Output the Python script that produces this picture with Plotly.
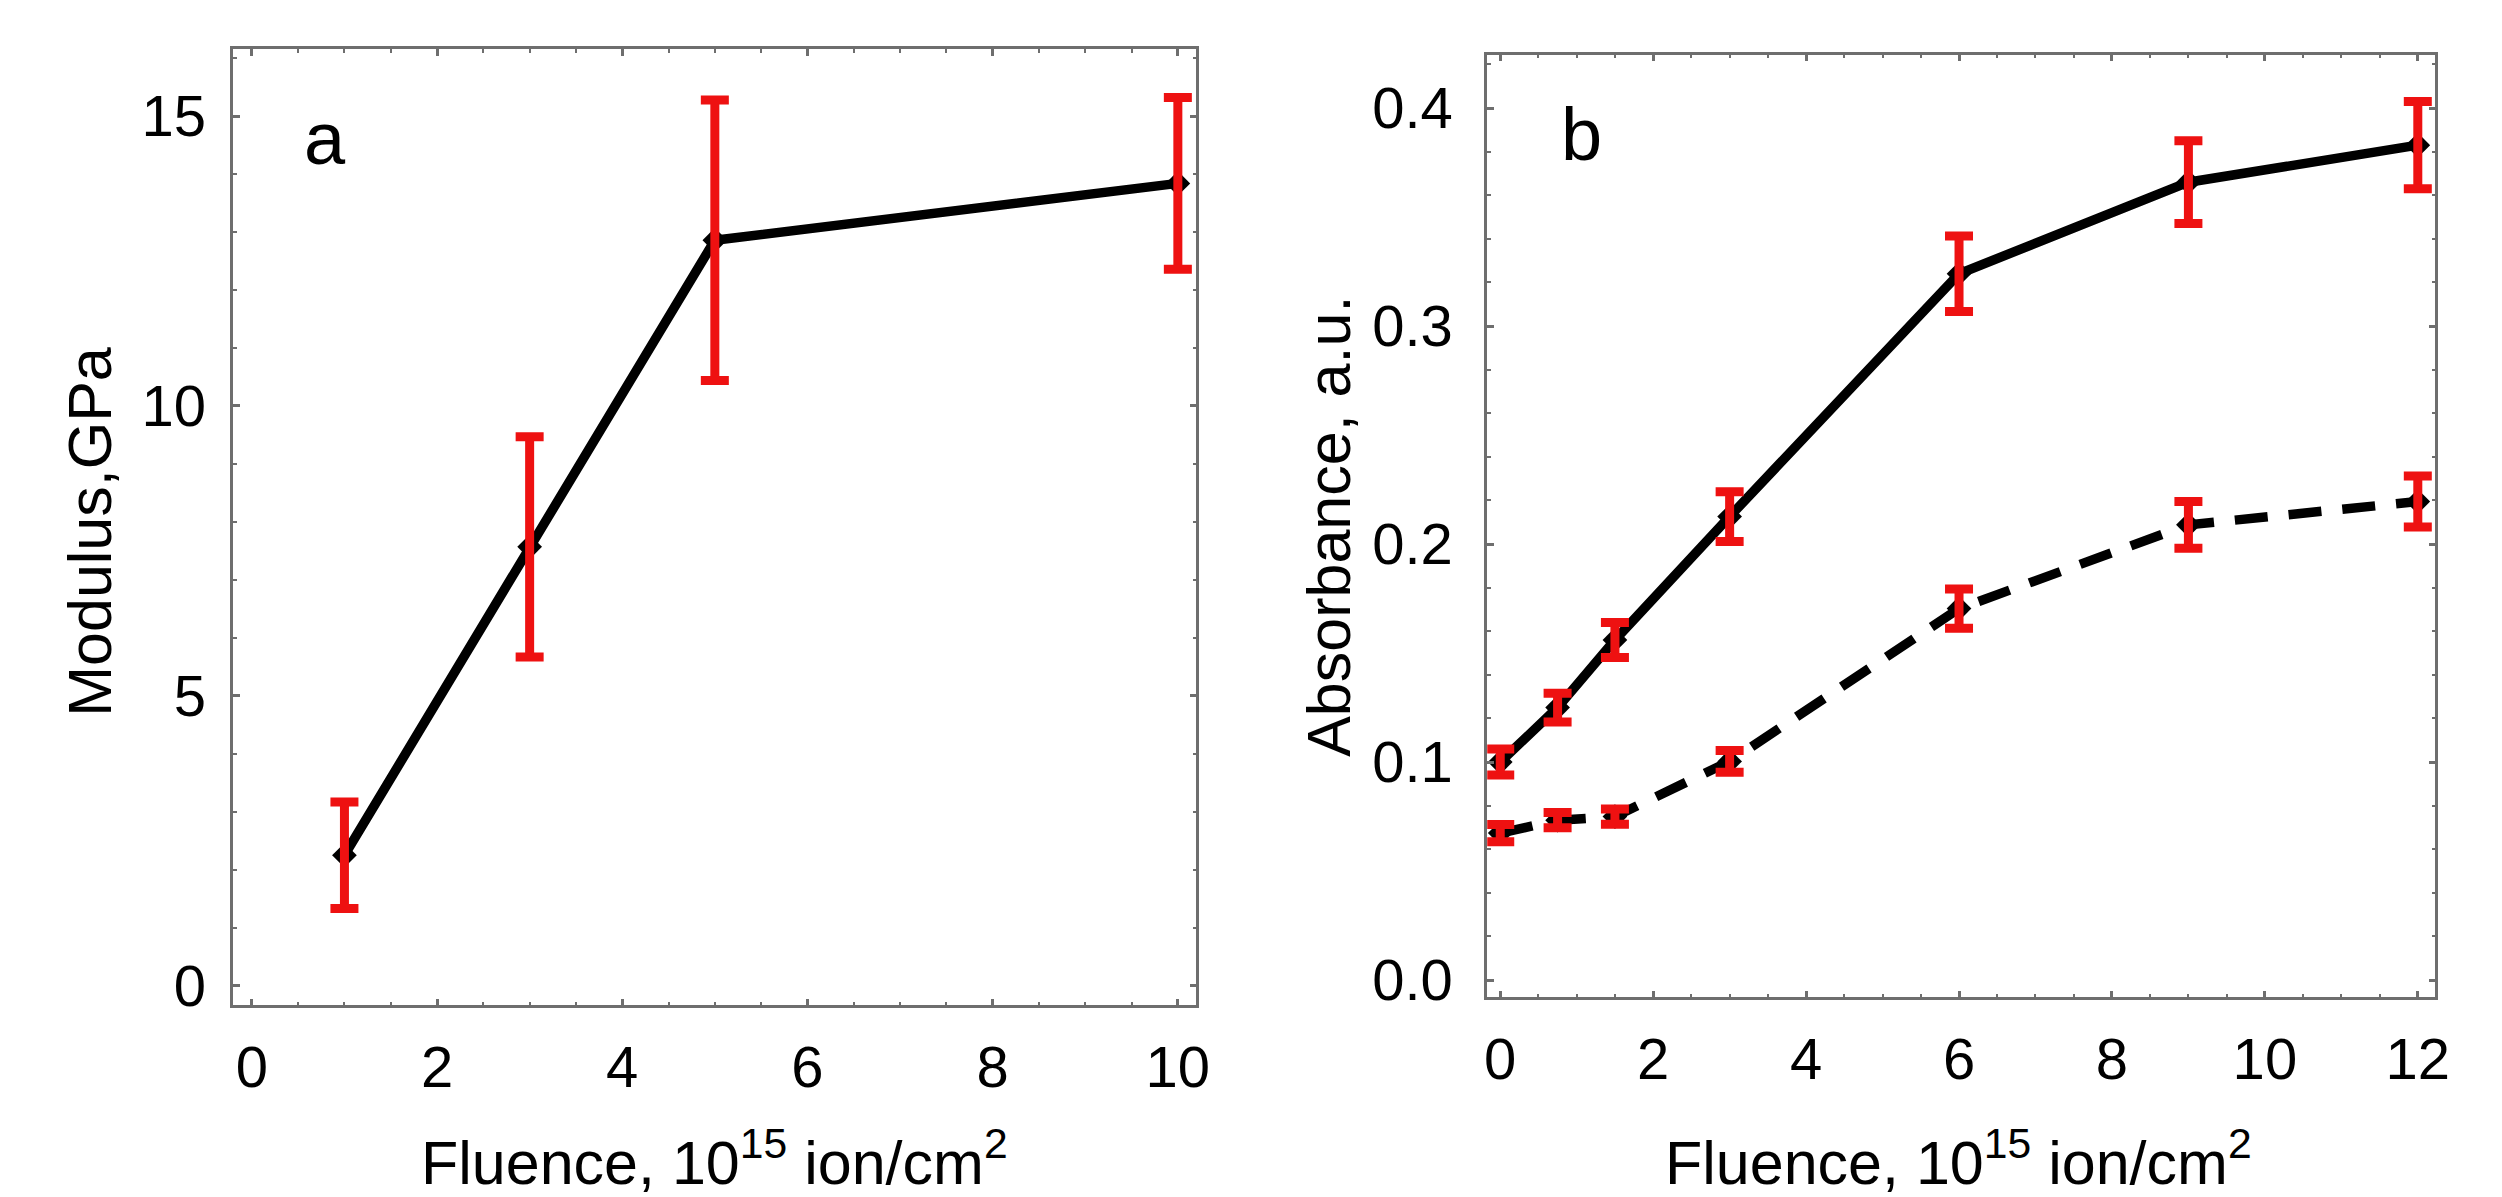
import plotly.graph_objects as go

# Panel a: modulus
fluence_a = [1, 3, 5, 10]
modulus = [2.25, 7.57, 12.86, 13.84]
modulus_err = [0.92, 1.9, 2.42, 1.48]

# Panel b: absorbance
fluence_b = [0, 0.75, 1.5, 3, 6, 9, 12]
abs_solid = [0.100, 0.125, 0.156, 0.2126, 0.324, 0.366, 0.383]
abs_solid_err = [0.006, 0.0066, 0.008, 0.0114, 0.0173, 0.019, 0.020]
abs_dash = [0.0674, 0.0733, 0.075, 0.1003, 0.1704, 0.2088, 0.2195]
abs_dash_err = [0.004, 0.0035, 0.0035, 0.005, 0.009, 0.0107, 0.0117]

RED = "#ee1111"
FONT = "Liberation Sans, Arial, sans-serif"
FRAME = "#6e6e6e"

fig = go.Figure()

def add_series(x, y, err, xa, ya, dash):
    fig.add_trace(go.Scatter(
        x=x, y=y, xaxis=xa, yaxis=ya, mode="lines+markers",
        line=dict(color="black", width=9.5, dash=dash),
        marker=dict(symbol="diamond", size=19, color="black"),
        showlegend=False, hoverinfo="skip"))
    fig.add_trace(go.Scatter(
        x=x, y=y, xaxis=xa, yaxis=ya, mode="markers",
        marker=dict(size=1, opacity=0),
        error_y=dict(type="data", array=err, visible=True, color=RED,
                     thickness=9, width=14),
        showlegend=False, hoverinfo="skip"))

add_series(fluence_a, modulus, modulus_err, "x", "y", "solid")
add_series(fluence_b, abs_solid, abs_solid_err, "x2", "y2", "solid")
add_series(fluence_b, abs_dash, abs_dash_err, "x2", "y2", "33px,21px")

axis_common = dict(
    showline=True, linecolor=FRAME, linewidth=2.5, mirror="allticks",
    ticks="inside", ticklen=7, tickwidth=2.5, tickcolor=FRAME,
    showgrid=False, zeroline=False,
    tickfont=dict(family=FONT, size=58, color="black"),
)
minor_common = dict(ticks="inside", ticklen=4, tickwidth=2, tickcolor=FRAME, showgrid=False)

xtitle = "Fluence, 10<sup>15</sup> ion/cm<sup>2</sup>"
title_font = dict(family=FONT, size=61, color="black")

fig.update_layout(
    width=2502, height=1197,
    margin=dict(l=0, r=0, t=0, b=0),
    paper_bgcolor="white", plot_bgcolor="white",
    xaxis=dict(axis_common, domain=[0.0895, 0.4772], range=[-0.2, 10.2],
               tickvals=[0, 2, 4, 6, 8, 10], minor=dict(minor_common, dtick=0.5),
               ticklabelstandoff=9, anchor="y"),
    yaxis=dict(axis_common, domain=[0.1562, 0.9649], range=[-0.34, 16.15],
               tickvals=[0, 5, 10, 15], minor=dict(minor_common, dtick=1),
               ticklabelstandoff=13, anchor="x"),
    xaxis2=dict(axis_common, domain=[0.5943, 0.976], range=[-0.17, 12.23],
                tickvals=[0, 2, 4, 6, 8, 10, 12], minor=dict(minor_common, dtick=0.5),
                ticklabelstandoff=9, anchor="y2"),
    yaxis2=dict(axis_common, domain=[0.1629, 0.9605], range=[-0.008, 0.4245],
                tickvals=[0.0, 0.1, 0.2, 0.3, 0.4], tickformat=".1f",
                minor=dict(minor_common, dtick=0.02),
                ticklabelstandoff=20, anchor="x2"),
    annotations=[
        dict(text="a", xref="paper", yref="paper", x=293 / 2502, y=1 - 132 / 1197,
             showarrow=False, xanchor="left", yanchor="middle",
             font=dict(family=FONT, size=74, color="black")),
        dict(text="b", xref="paper", yref="paper", x=1559 / 2502, y=1 - 128 / 1197,
             showarrow=False, xanchor="left", yanchor="middle",
             font=dict(family=FONT, size=74, color="black")),
        # axis titles
        dict(text=xtitle, xref="paper", yref="paper", x=0.2833, y=(1197 - 1165) / 1197,
             showarrow=False, xanchor="center", yanchor="middle", font=title_font),
        dict(text=xtitle, xref="paper", yref="paper", x=1961.5 / 2502, y=(1197 - 1165) / 1197,
             showarrow=False, xanchor="center", yanchor="middle", font=title_font),
        dict(text="Modulus,GPa", xref="paper", yref="paper", x=80 / 2502, y=1 - 530 / 1197,
             textangle=-90, showarrow=False, xanchor="center", yanchor="middle",
             font=title_font),
        dict(text="Absorbance, a.u.", xref="paper", yref="paper", x=1328 / 2502, y=1 - 525 / 1197,
             textangle=-90, showarrow=False, xanchor="center", yanchor="middle",
             font=title_font),
    ],
)

fig.write_html("out.html")
